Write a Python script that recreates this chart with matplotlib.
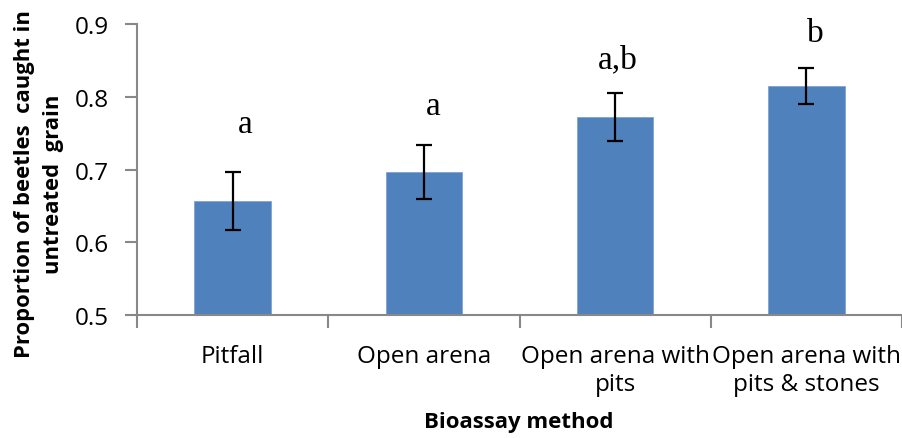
import matplotlib
matplotlib.use("Agg")
import matplotlib.pyplot as plt

# Bioassay methods and mean proportion of beetles in untreated grain
methods = ["Pitfall", "Open arena", "Open arena with\npits", "Open arena with\npits & stones"]
proportion = [0.657, 0.696, 0.772, 0.815]
std_err = [0.040, 0.037, 0.033, 0.025]
groups = ["a", "a", "a,b", "b"]

# where the significance letters sit (x offset from bar centre, y in data units)
letter_dx = [0.065, 0.05, 0.015, 0.047]
letter_y = [0.752, 0.776, 0.841, 0.876]

plt.rcParams['font.family'] = ['Open Sans', 'DejaVu Sans']

fig = plt.figure(figsize=(9.03, 4.39), dpi=100)
ax = fig.add_axes([137 / 903, 1 - 316 / 439, 765 / 903, 291 / 439])

x = list(range(len(methods)))
ax.bar(x, proportion, width=0.4, color='#4F81BD', edgecolor='#7FA3D3', linewidth=0.6,
       yerr=std_err, capsize=6, error_kw=dict(ecolor='black', elinewidth=1.6, capthick=1.6),
       zorder=2)

for i, g in enumerate(groups):
    ax.text(i + letter_dx[i], letter_y[i], g, ha='center', va='baseline',
            fontsize=24, family='Liberation Serif')

ax.set_xlim(-0.5, len(methods) - 0.5)
ax.set_ylim(0.5, 0.9)
ax.set_yticks([0.5, 0.6, 0.7, 0.8, 0.9])
ax.set_yticklabels(['0.5', '0.6', '0.7', '0.8', '0.9'])
ax.set_xticks(x)
ax.set_xticklabels(methods, fontsize=17.5, linespacing=1.22)
ax.set_xticks([i - 0.5 for i in range(len(methods) + 1)], minor=True)

ax.tick_params(axis='x', which='major', length=0, pad=21)
ax.tick_params(axis='x', which='minor', length=9, width=1.5, color='#888888')
ax.tick_params(axis='y', length=9, width=1.5, color='#888888', labelsize=17.5, pad=11)

for side in ['top', 'right']:
    ax.spines[side].set_visible(False)
for side in ['left', 'bottom']:
    ax.spines[side].set_color('#888888')
    ax.spines[side].set_linewidth(1.5)

fig.text(39 / 903, 1 - 184 / 439, "Proportion of beetles  caught in\nuntreated  grain",
         rotation=90, ha='center', va='center', fontsize=15.8, fontweight='bold',
         linespacing=1.5)
fig.text(519 / 903, 1 - 423 / 439, "Bioassay method", ha='center', va='center',
         fontsize=16, fontweight='bold')

fig.savefig("out.png", dpi=100)
